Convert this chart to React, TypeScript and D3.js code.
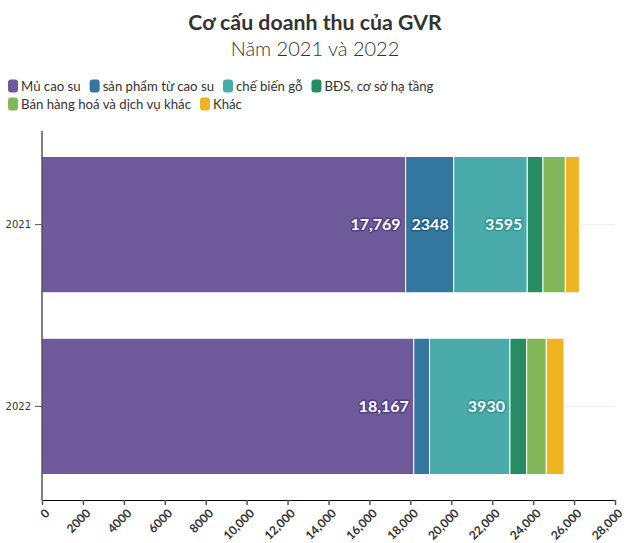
import React, { useEffect, useRef } from "react";
import * as d3 from "d3";

const years = ["2021", "2022"];
const seriesNames = [
  "Mủ cao su",
  "sản phẩm từ cao su",
  "chế biến gỗ",
  "BĐS, cơ sở hạ tầng",
  "Bán hàng hoá và dịch vụ khác",
  "Khác",
];
const seriesColors = ["#6e5a9b", "#33779f", "#4aabab", "#268c63", "#82b75a", "#eeb422"];
const haloColors = ["#553f85", "#1f5f86", "#2f9595", "#15704b", "#5e9a3a", "#c98f08"];
const values2021 = [17769, 2348, 3595, 769, 1092, 685];
const values2022 = [18167, 770, 3930, 816, 960, 866];
const labelThreshold = 1500;
const xTicks = [0, 2000, 4000, 6000, 8000, 10000, 12000, 14000, 16000, 18000, 20000, 22000, 24000, 26000, 28000];
const titleText = "Cơ cấu doanh thu của GVR";
const subtitleText = "Năm 2021 và 2022";

const W = 630;
const H = 543;
const FONT = "Lato, 'Open Sans', sans-serif";

export default function App() {
  const ref = useRef<SVGSVGElement | null>(null);

  useEffect(() => {
    const svg = d3.select(ref.current!);
    svg.selectAll("*").remove();

    // Title
    svg.append("text").attr("x", W / 2).attr("y", 30).attr("text-anchor", "middle")
      .attr("font-family", FONT).attr("font-weight", 700).attr("font-size", 21.3).attr("fill", "#333")
      .text(titleText);
    svg.append("text").attr("x", W / 2).attr("y", 56).attr("text-anchor", "middle")
      .attr("font-family", FONT).attr("font-weight", 300).attr("font-size", 20).attr("fill", "#333")
      .text(subtitleText);

    // Legend
    const legend = svg.append("g");
    let lx = 8;
    let ly = 86;
    const maxX = W - 8;
    seriesNames.forEach((name, i) => {
      const g = legend.append("g");
      g.append("rect").attr("x", 0).attr("y", -6.5).attr("width", 10).attr("height", 13).attr("rx", 3)
        .attr("fill", seriesColors[i]);
      const t = g.append("text").attr("x", 13).attr("y", 0).attr("dy", "0.35em")
        .attr("font-family", FONT).attr("font-size", 13.2).attr("fill", "#333").text(name);
      const tw = (t.node() as SVGTextElement).getComputedTextLength();
      const itemW = 13 + tw;
      if (lx + itemW > maxX && lx > 8) {
        lx = 8;
        ly += 18;
      }
      g.attr("transform", `translate(${lx},${ly})`);
      lx += itemW + 9;
    });

    const margin = { left: 42, right: 15, top: 131, bottom: 43 };
    const x = d3.scaleLinear().domain([0, 28000]).range([margin.left, W - margin.right]);
    const y = d3.scaleBand().domain(years).range([margin.top, H - margin.bottom]).paddingInner(0.25).paddingOuter(0.14);

    // gridlines at band centers
    svg.append("g").selectAll("line").data(years).join("line")
      .attr("x1", margin.left).attr("x2", W - margin.right)
      .attr("y1", (d) => y(d)! + y.bandwidth() / 2).attr("y2", (d) => y(d)! + y.bandwidth() / 2)
      .attr("stroke", "#eeeeee").attr("stroke-width", 1);

    const data = [values2021, values2022];
    const rows = years.map((yr, ri) => {
      let cum = 0;
      return data[ri].map((v, si) => {
        const s = { year: yr, si, v, x0: cum, x1: cum + v };
        cum += v;
        return s;
      });
    });

    const bars = svg.append("g");
    rows.flat().forEach((s) => {
      bars.append("rect")
        .attr("x", x(s.x0)).attr("y", y(s.year)!)
        .attr("width", x(s.x1) - x(s.x0)).attr("height", y.bandwidth())
        .attr("fill", seriesColors[s.si]).attr("stroke", "#ffffff").attr("stroke-width", 1);
    });

    const fmt = d3.format(",");
    const labels = svg.append("g");
    rows.flat().filter((s) => s.v >= labelThreshold).forEach((s) => {
      labels.append("text")
        .attr("x", x(s.x1) - 5).attr("y", y(s.year)! + y.bandwidth() / 2).attr("dy", "0.35em")
        .attr("text-anchor", "end").attr("font-family", FONT).attr("font-weight", 700).attr("font-size", 16)
        .attr("fill", "#ffffff").attr("stroke", haloColors[s.si]).attr("stroke-width", 3)
        .attr("stroke-linejoin", "round").attr("paint-order", "stroke")
        .text(s.v >= 10000 ? fmt(s.v) : String(s.v));
    });

    // y axis
    const yAxis = svg.append("g").attr("transform", `translate(${margin.left},0)`)
      .call(d3.axisLeft(y).tickSize(7).tickPadding(4));
    yAxis.select(".domain").attr("stroke", "#000").attr("d", `M0,${margin.top}V${H - margin.bottom}`);
    yAxis.selectAll(".tick line").attr("stroke", "#555");
    yAxis.selectAll(".tick text").attr("font-family", "'DejaVu Sans', sans-serif").attr("font-size", 10).attr("fill", "#333");

    // x axis
    const xAxis = svg.append("g").attr("transform", `translate(0,${H - margin.bottom})`)
      .call(d3.axisBottom(x).tickValues(xTicks).tickSize(5).tickSizeOuter(0)
        .tickFormat((d) => ((d as number) >= 10000 ? fmt(d as number) : String(d))));
    xAxis.select(".domain").attr("stroke", "#000").attr("stroke-width", 1);
    xAxis.selectAll(".tick line").attr("stroke", "#555").attr("stroke-width", 1.5);
    xAxis.selectAll(".tick text")
      .attr("font-family", FONT).attr("font-weight", 700).attr("font-size", 12).attr("fill", "#333")
      .attr("text-anchor", "end").attr("x", 0).attr("y", 0).attr("dy", "0.35em")
      .attr("transform", "translate(5,11) rotate(-45)");
  }, []);

  return <svg ref={ref} width={W} height={H} style={{ display: "block", position: "absolute", left: 0, top: 0 }} />;
}
